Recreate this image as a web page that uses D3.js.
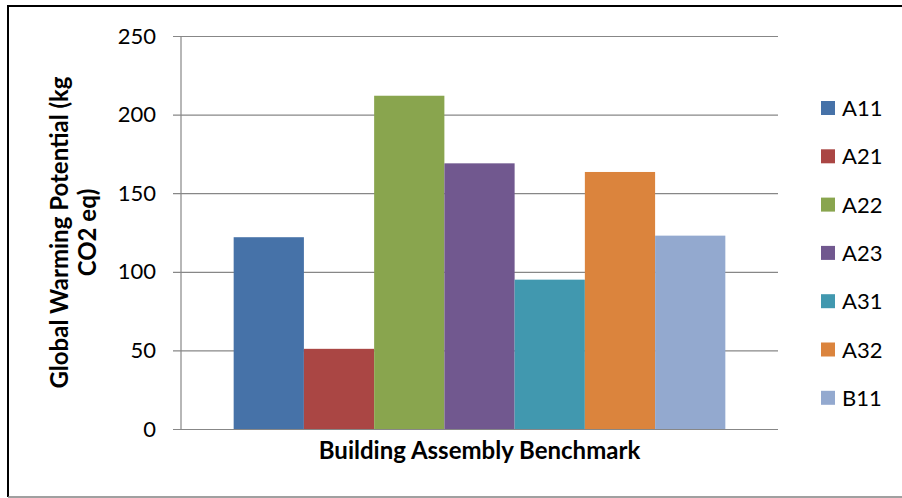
<!DOCTYPE html>
<html>
<head>
<meta charset="utf-8">
<script src="https://cdn.jsdelivr.net/npm/d3@7"></script>
<style>
  body { margin: 0; background: #fff; }
  svg { display: block; font-family: Lato, "Open Sans", sans-serif; }
</style>
</head>
<body>
<div id="chart"></div>
<script>
const F_WIDTH = 902;
const F_HEIGHT = 498;
const MARGINS = {left: 181, right: 124, top: 36, bottom: 69};

const VIS_WIDTH = F_WIDTH - MARGINS.left - MARGINS.right;
const VIS_HEIGHT = F_HEIGHT - MARGINS.top - MARGINS.bottom;

// chart data
const GROUP = ["Building Assembly Benchmark"];
const SERIES = ["A11", "A21", "A22", "A23", "A31", "A32", "B11"];
const VALUES = [122, 51, 212, 169, 95, 163.5, 123];
const COLORS = ["#4672a8", "#aa4644", "#89a54e", "#71588f", "#4198af", "#db843d", "#93a9cf"];
const Y_TICKS = [0, 50, 100, 150, 200, 250];

const FRAME = d3.select("#chart")
  .append("svg")
    .attr("width", F_WIDTH)
    .attr("height", F_HEIGHT);

// outer border (right side falls outside the picture)
FRAME.append("line")
  .attr("x1", 8).attr("x2", F_WIDTH)
  .attr("y1", 6).attr("y2", 6)
  .attr("stroke", "#000").attr("stroke-width", 2);
FRAME.append("line")
  .attr("x1", 8).attr("x2", 8)
  .attr("y1", 5).attr("y2", 497)
  .attr("stroke", "#000").attr("stroke-width", 2);
FRAME.append("line")
  .attr("x1", 8).attr("x2", F_WIDTH)
  .attr("y1", 497).attr("y2", 497)
  .attr("stroke", "#808080").attr("stroke-width", 1.5);

const X0 = d3.scaleBand()
  .domain(GROUP)
  .range([0, VIS_WIDTH])
  .paddingOuter(0.1071);

const X1 = d3.scaleBand()
  .domain(SERIES)
  .range([0, X0.bandwidth()]);

const Y_SCALE = d3.scaleLinear()
  .domain([0, 250])
  .range([VIS_HEIGHT, 0]);

const PLOT = FRAME.append("g")
  .attr("transform", "translate(" + MARGINS.left + "," + MARGINS.top + ")");

// gridlines + y axis
const yAxis = PLOT.append("g")
  .call(d3.axisLeft(Y_SCALE).tickValues(Y_TICKS).tickSize(-VIS_WIDTH).tickPadding(25));
yAxis.select(".domain").remove();
yAxis.selectAll(".tick line")
  .attr("stroke", "#878787")
  .attr("stroke-width", 1.2)
  .attr("x1", -8);
yAxis.selectAll(".tick text")
  .attr("font-size", 22)
  .attr("font-family", "Lato, sans-serif")
  .attr("fill", "#000");

// bars
PLOT.append("g")
  .selectAll("rect")
  .data(SERIES)
  .enter()
  .append("rect")
    .attr("x", (d) => X0(GROUP[0]) + X1(d))
    .attr("y", (d, i) => Y_SCALE(VALUES[i]))
    .attr("width", X1.bandwidth())
    .attr("height", (d, i) => VIS_HEIGHT - Y_SCALE(VALUES[i]))
    .attr("fill", (d, i) => COLORS[i]);

// vertical axis line
PLOT.append("line")
  .attr("x1", 0).attr("x2", 0)
  .attr("y1", 0).attr("y2", VIS_HEIGHT)
  .attr("stroke", "#878787")
  .attr("stroke-width", 1.2);

// x axis title
FRAME.append("text")
  .attr("x", MARGINS.left + VIS_WIDTH / 2)
  .attr("y", 459)
  .attr("text-anchor", "middle")
  .attr("font-size", 24)
  .attr("font-weight", "bold")
  .text(GROUP[0]);

// y axis title (two lines)
const yTitle = FRAME.append("text")
  .attr("transform", "translate(68," + (MARGINS.top + VIS_HEIGHT / 2) + ") rotate(-90)")
  .attr("text-anchor", "middle")
  .attr("font-size", 24)
  .attr("font-weight", "bold");
yTitle.append("tspan").attr("x", 0).attr("dy", 0).text("Global Warming Potential (kg");
yTitle.append("tspan").attr("x", 0).attr("dy", 28).text("CO2 eq)");

// legend
const legend = FRAME.append("g")
  .selectAll("g")
  .data(SERIES)
  .enter()
  .append("g")
    .attr("transform", (d, i) => "translate(821," + (108 + i * 48.3) + ")");
legend.append("rect")
  .attr("x", 0)
  .attr("y", -7)
  .attr("width", 14)
  .attr("height", 14)
  .attr("fill", (d, i) => COLORS[i]);
legend.append("text")
  .attr("x", 21)
  .attr("y", 8)
  .attr("font-size", 22)
  .text((d) => d);
</script>
</body>
</html>
